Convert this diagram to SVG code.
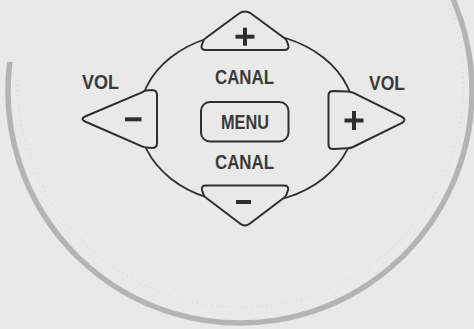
<svg xmlns="http://www.w3.org/2000/svg" width="474" height="329" viewBox="0 0 474 329">
<style>
.ln{fill:#e9e9e9;stroke:#2e2e2e;stroke-width:2;stroke-linejoin:round}
.lbl{font-family:"Liberation Sans",Arial,sans-serif;font-weight:bold;fill:#3a3a3a;text-anchor:middle}
.sym{fill:#2e2e2e}
</style>
<rect width="474" height="329" fill="#e9e9e9"/>
<g id="outer-ring">
<path d="M 9.8 62 A 232 232 0 1 0 451.2 -5" fill="none" stroke="#b4b4b4" stroke-width="5.5"/>
<path d="M 18 70 A 223 223 0 1 0 445 -5" fill="none" stroke="#d4d4d4" stroke-width="1.2" stroke-dasharray="1 4"/>
</g>
<g id="pad-ring">
<ellipse cx="247" cy="118" rx="108" ry="85.5" fill="none" stroke="#2e2e2e" stroke-width="1.8"/>
</g>
<g id="canal-up">
<path class="ln" d="M 206 50 Q 201 50 201.5 46 L 203 41.5 Q 204 39 206.5 37.5 L 239 13.5 Q 245 9.5 251 13.5 L 283.5 37.5 Q 286 39 287 41.5 L 288.5 46 Q 289 50 284 50 Z"/>
<rect class="sym" x="235.5" y="34.7" width="19" height="4"/>
<rect class="sym" x="243" y="27.7" width="4" height="18"/>
</g>
<g id="canal-down">
<path class="ln" d="M 206 185.5 L 284 185.5 Q 289 185.5 288 190 L 286.5 194.5 Q 285.5 197 283 198.5 L 250 223.5 Q 245 227.5 240 223.5 L 207 198.5 Q 204.5 197 203.5 194.5 L 202 190 Q 201 185.5 206 185.5 Z"/>
<rect class="sym" x="236" y="200" width="15" height="4"/>
</g>
<g id="vol-down">
<path class="ln" d="M 152 90 Q 157 90 157 95 L 157 143 Q 157 148 152 148 L 146.5 147.5 Q 144 147.3 142 146.4 L 85 121.5 Q 80 119 85 116.5 L 142 92.3 Q 144 91 146.5 90.6 Z"/>
<rect class="sym" x="125" y="117.3" width="16.5" height="4"/>
</g>
<g id="vol-up">
<path class="ln" d="M 333 91 L 347.5 91.4 Q 350.5 91.6 353 92.6 L 402 116.8 Q 407 119.8 402 122.8 L 353 147 Q 350.5 148.1 347.5 148.3 L 333 149 Q 328.5 149 328.5 144.5 L 328.5 95.5 Q 328.5 91 333 91 Z"/>
<rect class="sym" x="344.5" y="118.5" width="19" height="4"/>
<rect class="sym" x="352" y="111" width="4" height="19"/>
</g>
<g id="menu">
<rect class="ln" x="201" y="102" width="87.5" height="39.5" rx="9"/>
<text class="lbl" x="245" y="128.5" font-size="21" textLength="48" lengthAdjust="spacingAndGlyphs">MENU</text>
</g>
<g id="labels">
<text class="lbl" x="100.5" y="89" font-size="19.5" textLength="37" lengthAdjust="spacingAndGlyphs">VOL</text>
<text class="lbl" x="387" y="90" font-size="19.5" textLength="36" lengthAdjust="spacingAndGlyphs">VOL</text>
<text class="lbl" x="244.5" y="84" font-size="19.5" textLength="59" lengthAdjust="spacingAndGlyphs">CANAL</text>
<text class="lbl" x="244.5" y="169" font-size="19.5" textLength="59" lengthAdjust="spacingAndGlyphs">CANAL</text>
</g>
</svg>
